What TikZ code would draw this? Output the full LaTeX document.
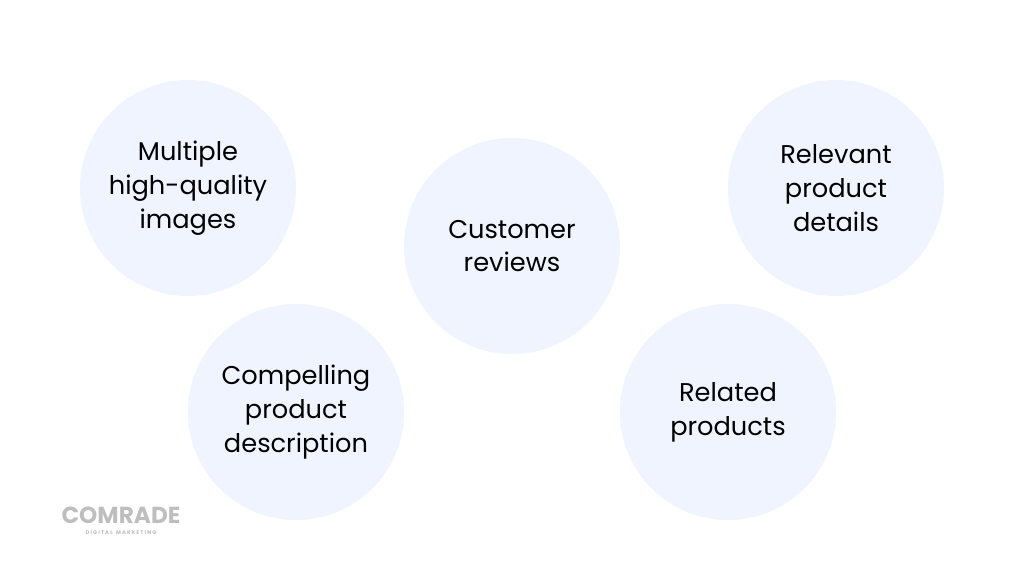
\documentclass[tikz,border=0pt]{standalone}
\usepackage{fontspec}
\setmainfont{Poppins}
\usepackage{tikz}
\definecolor{bubble}{RGB}{239,244,254}
\definecolor{logo}{RGB}{190,190,190}
\tikzset{
  topic/.style={circle, fill=bubble, minimum size=2.16cm, inner sep=0pt,
    align=center, font=\fontsize{7.3}{9.6}\selectfont, text=black}
}
\begin{document}
\begin{tikzpicture}[x=0.01cm,y=-0.01cm]
                \useasboundingbox (0,0) rectangle (1024,576);

                \node[topic] (images) at (188,188) {Multiple\\high-quality\\images};
                \node[topic] (description) at (296,412) {Compelling\\product\\description};
                \node[topic] (reviews) at (512,246) {Customer\\reviews};
                \node[topic] (details) at (836,188) {Relevant\\product\\details};
                \node[topic] (related) at (728,412) {Related\\products};

                \node[text=logo, font=\bfseries\fontsize{6.6}{6.6}\selectfont] (brand) at (121,515) {COMRADE};
                \node[text=logo, font=\bfseries\fontsize{1.5}{1.5}\selectfont] (tagline) at (121,533) {D I G I T A L \ \ M A R K E T I N G};
            \end{tikzpicture}
\end{document}
